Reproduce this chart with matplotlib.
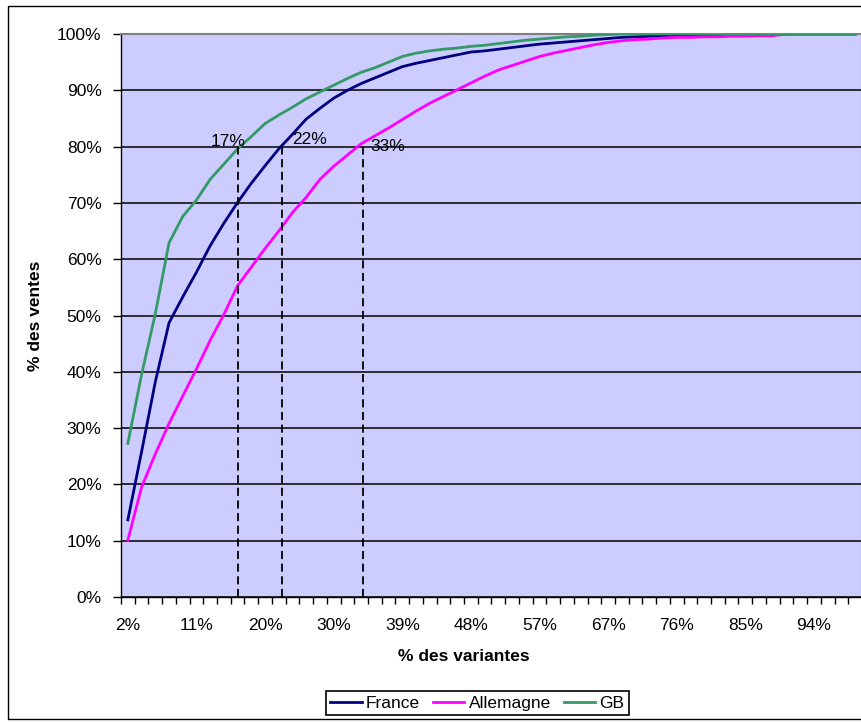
"""
courbe de concentration des ventes par variante — France / Allemagne / GB
sortie : out.png
"""

import numpy as np
import matplotlib
matplotlib.use("Agg")
import matplotlib.pyplot as plt
from matplotlib.patches import Rectangle

plt.rcParams["font.family"] = ["Liberation Sans", "DejaVu Sans"]

# % cumulé des ventes, une valeur par catégorie (54 catégories = % des variantes)
france = [13.7, 25.8, 38.2, 48.7, 53.3, 57.7, 62.4, 66.4, 70.1, 73.5,
          76.6, 79.6, 82.2, 84.9, 86.8, 88.6, 90.0, 91.2, 92.2, 93.2,
          94.2, 94.8, 95.3, 95.8, 96.3, 96.8, 97.0, 97.3, 97.6, 97.9,
          98.2, 98.4, 98.6, 98.8, 99.0, 99.2, 99.4, 99.5, 99.6, 99.7,
          99.8, 99.8, 99.9, 99.9, 99.9, 100, 100, 100, 100, 100,
          100, 100, 100, 100]
allemagne = [10.1, 19.5, 25.4, 30.8, 35.7, 40.5, 45.6, 50.2, 55.3, 58.6,
             61.9, 65.0, 68.3, 71.0, 74.2, 76.5, 78.5, 80.5, 81.9, 83.3,
             84.8, 86.3, 87.7, 88.9, 90.1, 91.3, 92.5, 93.6, 94.4, 95.2,
             96.0, 96.6, 97.1, 97.6, 98.1, 98.5, 98.8, 99.0, 99.1, 99.3,
             99.4, 99.4, 99.5, 99.5, 99.6, 99.6, 99.7, 99.7, 100, 100,
             100, 100, 100, 100]
gb = [27.3, 39.5, 50.3, 62.9, 67.6, 70.5, 74.2, 76.9, 79.6, 81.8,
      84.1, 85.6, 87.0, 88.5, 89.7, 90.9, 92.1, 93.2, 94.0, 95.0,
      96.0, 96.6, 97.0, 97.3, 97.5, 97.8, 98.0, 98.3, 98.6, 98.9,
      99.1, 99.3, 99.5, 99.6, 99.8, 99.9, 100, 100, 100, 100,
      100, 100, 100, 100, 100, 100, 100, 100, 100, 100,
      100, 100, 100, 100]

# étiquettes de l'axe x (une toutes les 5 catégories)
xtick_pos = [1, 6, 11, 16, 21, 26, 31, 36, 41, 46, 51]
xtick_labels = ["2%", "11%", "20%", "30%", "39%", "48%", "57%", "67%", "76%", "85%", "94%"]

# repères pointillés : position (catégorie) et texte
reperes_x = [9.0, 12.2, 18.1]
reperes_txt = ["17%", "22%", "33%"]
repere_haut = 80.7

FS = 12.5
W, H = 862, 722
fig = plt.figure(figsize=(W / 100, H / 100), dpi=100)
fig.add_artist(Rectangle((8 / W, 1 - 719 / H), 1.0, (719 - 6) / H,
                         transform=fig.transFigure, fill=False,
                         edgecolor="black", linewidth=1.0))

ax = fig.add_axes([121 / W, 125 / H, 741 / W, 563 / H])
ax.set_facecolor("#CCCCFF")

x = np.arange(1, len(france) + 1)
ax.plot(x, france, color="#000080", lw=2.0, label="France", zorder=3)
ax.plot(x, allemagne, color="#FF00FF", lw=2.0, label="Allemagne", zorder=3)
ax.plot(x, gb, color="#339966", lw=2.0, label="GB", zorder=3)

for xr in reperes_x:
    ax.plot([xr, xr], [0, repere_haut], color="black", lw=1.3,
            ls=(0, (4.5, 2.5)), zorder=4)
txt_pos = [(7.0, 80.9), (13.0, 81.2), (18.7, 80.1)]
for (tx, ty), t in zip(txt_pos, reperes_txt):
    ax.text(tx, ty, t, fontsize=FS, ha="left", va="center", zorder=5)

ax.set_xlim(0.5, len(france) + 0.5)
ax.set_ylim(0, 100)
ax.set_yticks(range(0, 101, 10))
ax.set_yticklabels([f"{v}%" for v in range(0, 101, 10)])
ax.set_xticks(xtick_pos)
ax.set_xticklabels(xtick_labels)
ax.set_xticks(np.arange(0.5, len(france) + 1, 1), minor=True)

ax.yaxis.grid(True, color="black", lw=1.1)
ax.set_axisbelow(True)

ax.tick_params(axis="y", length=6, width=1, pad=8, labelsize=FS, direction="out")
ax.tick_params(axis="x", which="major", length=0, pad=15, labelsize=FS)
ax.tick_params(axis="x", which="minor", length=5, width=1, direction="out")

for s in ["top", "right"]:
    ax.spines[s].set_color("#808080")
    ax.spines[s].set_linewidth(1.5)
for s in ["left", "bottom"]:
    ax.spines[s].set_color("black")
    ax.spines[s].set_linewidth(1.0)

fig.text(35.7 / W, 1 - 316 / H, "% des ventes", rotation=90, ha="center",
         va="center", fontsize=12.5, fontweight="bold")
fig.text(464 / W, 1 - 656.7 / H, "% des variantes", ha="center",
         va="center", fontsize=12.5, fontweight="bold")

leg = fig.legend(loc="center", bbox_to_anchor=(477.5 / W, 1 - 703.3 / H),
                 ncol=3, frameon=True, fancybox=False, edgecolor="black",
                 framealpha=1, handlelength=1.8, handletextpad=0.25,
                 columnspacing=0.75, borderpad=0.25, borderaxespad=0,
                 fontsize=FS)
leg.get_frame().set_linewidth(1.2)

fig.savefig("out.png", dpi=100)
